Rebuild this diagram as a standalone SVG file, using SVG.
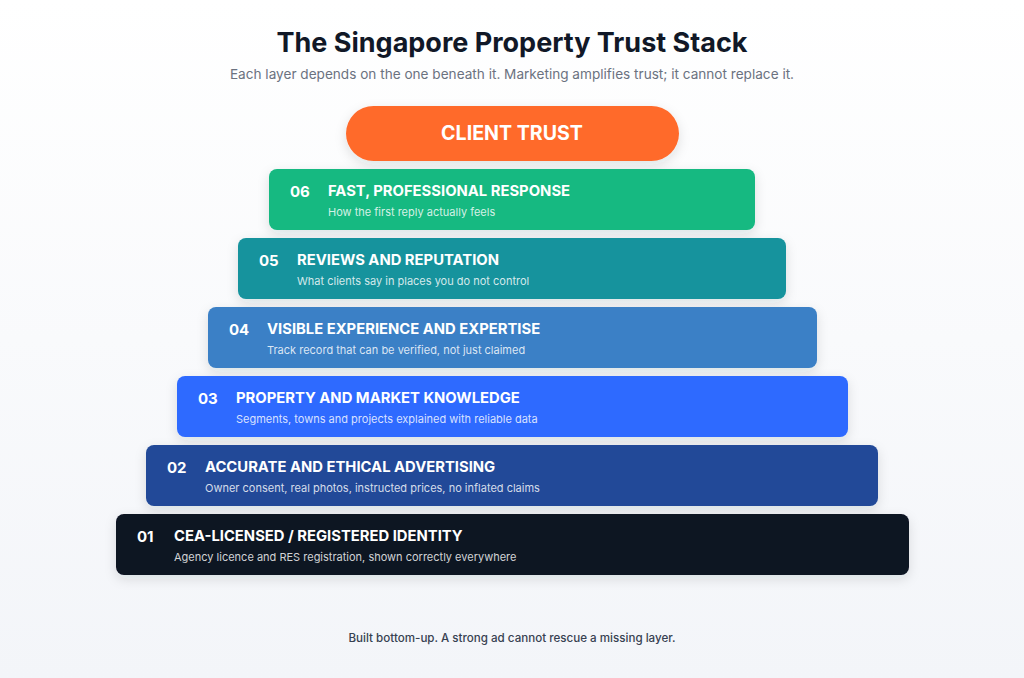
<svg xmlns="http://www.w3.org/2000/svg" width="1024" height="678" viewBox="0 0 1024 678">
<defs>
<linearGradient id="bg" x1="0" y1="0" x2="0" y2="1">
<stop offset="0" stop-color="#ffffff"/>
<stop offset="1" stop-color="#f3f5f9"/>
</linearGradient>
<filter id="sh" x="-10%" y="-40%" width="120%" height="190%">
<feDropShadow dx="0" dy="4" stdDeviation="6" flood-color="#1f2937" flood-opacity="0.12"/>
</filter>
<style>
.title{font-family:Inter,"Liberation Sans",sans-serif;font-weight:700;font-size:27px;fill:#111827;text-anchor:middle}
.sub{font-family:Inter,"Liberation Sans",sans-serif;font-size:13.6px;fill:#6b7280;text-anchor:middle}
.foot{font-family:Inter,"Liberation Sans",sans-serif;font-size:11.6px;font-weight:500;fill:#374151;text-anchor:middle}
.num{font-family:Inter,"Liberation Sans",sans-serif;font-weight:700;font-size:15px;fill:#ffffff}
.head{font-family:Inter,"Liberation Sans",sans-serif;font-weight:700;font-size:14.8px;fill:#ffffff}
.desc{font-family:Inter,"Liberation Sans",sans-serif;font-size:11px;fill:#ffffff;fill-opacity:0.82}
.top{font-family:Inter,"Liberation Sans",sans-serif;font-weight:700;font-size:19.6px;fill:#ffffff;text-anchor:middle}
.box{filter:url(#sh)}
</style>
</defs>
<rect width="1024" height="678" fill="url(#bg)"/>
<text class="title" x="512" y="52">The Singapore Property Trust Stack</text>
<text class="sub" x="512" y="79">Each layer depends on the one beneath it. Marketing amplifies trust; it cannot replace it.</text>

<g id="client-trust">
<rect class="box" x="346" y="106" width="333" height="55" rx="27.5" fill="#ff6b2c"/>
<text class="top" x="512" y="140">CLIENT TRUST</text>
</g>

<g id="layer-06">
<rect class="box" x="269" y="169" width="486" height="61" rx="8" fill="#14b981"/>
<text class="num" x="290" y="197">06</text>
<text class="head" x="328" y="196">FAST, PROFESSIONAL RESPONSE</text>
<text class="desc" x="328" y="216">How the first reply actually feels</text>
</g>

<g id="layer-05">
<rect class="box" x="238" y="238" width="548" height="61" rx="8" fill="#14939d"/>
<text class="num" x="259" y="266">05</text>
<text class="head" x="297" y="265">REVIEWS AND REPUTATION</text>
<text class="desc" x="297" y="285">What clients say in places you do not control</text>
</g>

<g id="layer-04">
<rect class="box" x="208" y="307" width="609" height="61" rx="8" fill="#3b80c6"/>
<text class="num" x="229" y="335">04</text>
<text class="head" x="267" y="334">VISIBLE EXPERIENCE AND EXPERTISE</text>
<text class="desc" x="267" y="354">Track record that can be verified, not just claimed</text>
</g>

<g id="layer-03">
<rect class="box" x="177" y="376" width="671" height="61" rx="8" fill="#2f6bff"/>
<text class="num" x="198" y="404">03</text>
<text class="head" x="236" y="403">PROPERTY AND MARKET KNOWLEDGE</text>
<text class="desc" x="236" y="423">Segments, towns and projects explained with reliable data</text>
</g>

<g id="layer-02">
<rect class="box" x="146" y="445" width="732" height="61" rx="8" fill="#214a98"/>
<text class="num" x="167" y="473">02</text>
<text class="head" x="205" y="472">ACCURATE AND ETHICAL ADVERTISING</text>
<text class="desc" x="205" y="492">Owner consent, real photos, instructed prices, no inflated claims</text>
</g>

<g id="layer-01">
<rect class="box" x="116" y="514" width="793" height="61" rx="8" fill="#0b1221"/>
<text class="num" x="137" y="542">01</text>
<text class="head" x="174" y="541">CEA-LICENSED / REGISTERED IDENTITY</text>
<text class="desc" x="174" y="561">Agency licence and RES registration, shown correctly everywhere</text>
</g>

<g id="connectors"></g>

<text class="foot" x="512" y="642">Built bottom-up. A strong ad cannot rescue a missing layer.</text>
</svg>
